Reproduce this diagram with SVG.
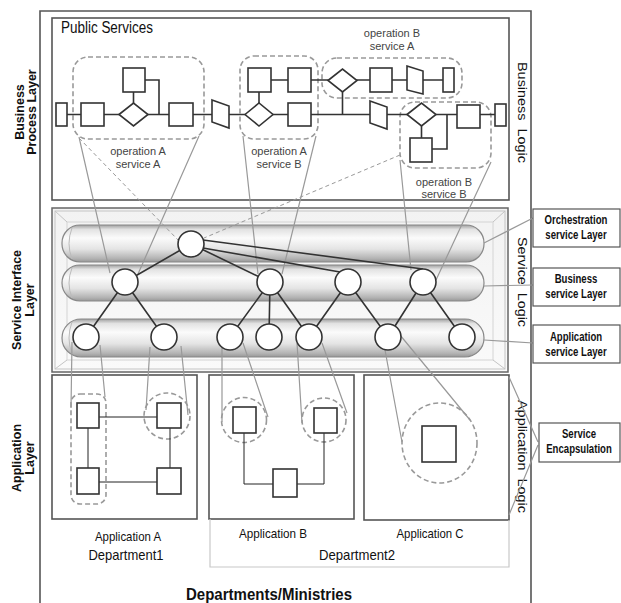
<svg xmlns="http://www.w3.org/2000/svg" width="621" height="603" viewBox="0 0 621 603">
<defs>
<linearGradient id="pill" x1="0" y1="0" x2="0" y2="1">
<stop offset="0" stop-color="#a0a0a0"/>
<stop offset="0.12" stop-color="#e2e2e2"/>
<stop offset="0.35" stop-color="#fbfbfb"/>
<stop offset="0.65" stop-color="#e4e4e4"/>
<stop offset="0.9" stop-color="#b4b4b4"/>
<stop offset="1" stop-color="#989898"/>
</linearGradient>
<linearGradient id="box" x1="0" y1="0" x2="0" y2="1">
<stop offset="0" stop-color="#f2f2f2"/>
<stop offset="1" stop-color="#fafafa"/>
</linearGradient>
</defs>
<style>
.frame{fill:none;stroke:#555;stroke-width:1.6}
.sq{fill:#fff;stroke:#333;stroke-width:1.6}
.ln{fill:none;stroke:#333;stroke-width:1.6}
.thin{fill:none;stroke:#222;stroke-width:1}
.dash{fill:none;stroke:#999;stroke-width:1.6;stroke-dasharray:5 3}
.gl{fill:none;stroke:#999;stroke-width:1.2}
.gd{fill:none;stroke:#999;stroke-width:1;stroke-dasharray:4 3}
.pill{fill:url(#pill);stroke:#888;stroke-width:1.2}
.c{fill:#fff;stroke:#333;stroke-width:1.6}
.t{font-family:"Liberation Sans Narrow","Liberation Sans",Arial,sans-serif;fill:#111}
.op{font-family:"Liberation Sans",Arial,sans-serif;font-size:11px;fill:#444;text-anchor:middle}
.b{font-family:"Liberation Sans Narrow","Liberation Sans",Arial,sans-serif;font-weight:bold;fill:#111}
.rl{font-family:"Liberation Sans",Arial,sans-serif;font-weight:bold;font-size:12px;fill:#111;text-anchor:middle}
.lbl{fill:#fff;stroke:#555;stroke-width:1.2}
</style>

<!-- outer frame -->
<path class="frame" d="M40,610 V11 H531 V610"/>

<!-- side labels -->
<g id="left-labels">
<text class="b" font-size="12.5" text-anchor="middle" transform="translate(23.5,112) rotate(-90)">Business</text>
<text class="b" font-size="12.5" text-anchor="middle" transform="translate(36,112) rotate(-90)">Process Layer</text>
<text class="b" font-size="12.5" text-anchor="middle" transform="translate(21,300) rotate(-90)">Service Interface</text>
<text class="b" font-size="12.5" text-anchor="middle" transform="translate(33.5,300) rotate(-90)">Layer</text>
<text class="b" font-size="12.5" text-anchor="middle" transform="translate(21,458) rotate(-90)">Application</text>
<text class="b" font-size="12.5" text-anchor="middle" transform="translate(33.5,458) rotate(-90)">Layer</text>
</g>
<g id="right-logic">
<text class="t" font-size="13" style="white-space:pre" textLength="101" lengthAdjust="spacingAndGlyphs" transform="translate(518,62) rotate(90)">Business  Logic</text>
<text class="t" font-size="13" style="white-space:pre" textLength="90" lengthAdjust="spacingAndGlyphs" transform="translate(518,237) rotate(90)">Service  Logic</text>
<text class="t" font-size="13" style="white-space:pre" textLength="113" lengthAdjust="spacingAndGlyphs" transform="translate(518,400) rotate(90)">Application  Logic</text>
</g>

<!-- Business process layer -->
<g id="business-process">
<rect class="frame" x="52" y="18" width="457" height="182"/>
<text class="t" x="61" y="33" font-size="16" textLength="92" lengthAdjust="spacingAndGlyphs">Public Services</text>
<rect class="dash" x="73" y="57" width="131" height="82" rx="15"/>
<rect class="dash" x="240" y="56" width="78" height="83" rx="14"/>
<rect class="dash" x="322" y="58" width="140" height="40" rx="15"/>
<rect class="dash" x="400" y="102" width="91" height="66" rx="15"/>
<path class="ln" d="M67,114.5 H495 M133.5,103 V92 M145,80 H159 V114.5 M259,103 V92 M271,80 H288 M311,80 H443 M342.5,92 V114.5 M421.5,126 V138 M432,149 H447 V114.5"/>
<rect class="sq" x="56" y="103" width="11" height="23"/>
<rect class="sq" x="81" y="103" width="23" height="23"/>
<polygon class="sq" points="119,114.5 133.5,103 148,114.5 133.5,126"/>
<rect class="sq" x="123" y="68" width="22" height="24"/>
<rect class="sq" x="169" y="103" width="24" height="23"/>
<polygon class="sq" points="212,100 229,106 229,128 212,122"/>
<polygon class="sq" points="245,114.5 259,103 273,114.5 259,126"/>
<rect class="sq" x="248" y="68" width="23" height="24"/>
<rect class="sq" x="288" y="68" width="23" height="24"/>
<rect class="sq" x="288" y="103" width="23" height="23"/>
<polygon class="sq" points="328,80.5 342.5,69 357,80.5 342.5,92"/>
<rect class="sq" x="370" y="68" width="22" height="24"/>
<polygon class="sq" points="407,66 423,71 423,94 407,90"/>
<rect class="sq" x="443" y="68" width="11" height="24"/>
<polygon class="sq" points="370,101 387,107 387,129 370,123"/>
<polygon class="sq" points="407,114.5 421.5,103 436,114.5 421.5,126"/>
<rect class="sq" x="410" y="138" width="22" height="24"/>
<rect class="sq" x="457" y="105" width="23" height="23"/>
<rect class="sq" x="495" y="104" width="11" height="22"/>
<text class="op" x="138" y="155">operation A</text>
<text class="op" x="138" y="167.5">service A</text>
<text class="op" x="279" y="155">operation A</text>
<text class="op" x="279" y="167.5">service B</text>
<text class="op" x="392" y="37">operation B</text>
<text class="op" x="392" y="49.5">service A</text>
<text class="op" x="444" y="186">operation B</text>
<text class="op" x="444" y="198">service B</text>
</g>

<!-- Service interface layer -->
<g id="service-layer">
<rect x="52" y="208" width="456" height="164" fill="url(#box)" stroke="#666" stroke-width="1.5"/>
<rect x="55" y="211" width="450" height="158" fill="none" stroke="#c4c4c4" stroke-width="1"/>
<rect x="67" y="222" width="426" height="138" fill="none" stroke="#d4d4d4" stroke-width="1"/>
<path d="M55,211 L67,222 M505,211 L493,222 M55,369 L67,360 M505,369 L493,360" stroke="#c4c4c4" stroke-width="1" fill="none"/>
<rect class="pill" x="62" y="225" width="422" height="37" rx="18"/>
<rect class="pill" x="62" y="265" width="422" height="36" rx="18"/>
<rect class="pill" x="62" y="319" width="422" height="38" rx="19"/>
<path d="M72,228 Q66,243.5 72,259 M72,268 Q66,283 72,298 M72,322 Q66,338 72,354" stroke="#bbb" fill="none" stroke-width="1"/>
</g>

<!-- Application layer -->
<g id="app-a">
<rect class="frame" x="52" y="375" width="145" height="144"/>
<rect class="dash" x="71" y="394" width="35" height="110" rx="9"/>
<circle class="dash" cx="167" cy="416" r="23"/>
<path class="thin" d="M99,417 H157 M88,428 V468 M99,482 H157 M170,428 V468"/>
<rect class="sq" x="77" y="403" width="22" height="25"/>
<rect class="sq" x="157" y="403" width="24" height="25"/>
<rect class="sq" x="77" y="468" width="22" height="26"/>
<rect class="sq" x="157" y="468" width="24" height="26"/>
<text class="t" x="128" y="541" font-size="13" text-anchor="middle" textLength="66" lengthAdjust="spacingAndGlyphs">Application A</text>
<text class="t" x="126" y="560" font-size="15" text-anchor="middle" textLength="75" lengthAdjust="spacingAndGlyphs">Department1</text>
</g>
<g id="app-b">
<rect class="frame" x="209" y="375" width="145" height="144"/>
<circle class="dash" cx="244" cy="420" r="22.5"/>
<circle class="dash" cx="324" cy="420" r="22"/>
<path class="thin" d="M244,433 V484 H273 M297,484 H324 V433"/>
<rect class="sq" x="233" y="407" width="23" height="26"/>
<rect class="sq" x="314" y="408" width="23" height="25"/>
<rect class="sq" x="273" y="469" width="24" height="28"/>
<text class="t" x="273" y="538" font-size="13" text-anchor="middle" textLength="68" lengthAdjust="spacingAndGlyphs">Application B</text>
</g>
<g id="app-c">
<rect class="frame" x="364" y="375" width="145" height="145"/>
<ellipse class="dash" cx="439.5" cy="443" rx="37.5" ry="40"/>
<rect class="sq" x="422" y="426" width="34" height="36"/>
<text class="t" x="430" y="538" font-size="13" text-anchor="middle" textLength="67" lengthAdjust="spacingAndGlyphs">Application C</text>
</g>
<g id="department2">
<path d="M210,519 V567 H509 V520" fill="none" stroke="#c8c8c8" stroke-width="1.2"/>
<text class="t" x="357" y="560" font-size="15" text-anchor="middle" textLength="76" lengthAdjust="spacingAndGlyphs">Department2</text>
</g>
<text class="b" x="269" y="600" font-size="17" text-anchor="middle" textLength="166" lengthAdjust="spacingAndGlyphs">Departments/Ministries</text>

<!-- connectors -->
<g id="connectors">
<path class="gl" d="M79,137 L110,273 M199,136 L138,274 M243,136 L258,274 M316,136 L282,274 M400,160 L411,270 M491,162 L436,280"/>
<path class="gd" d="M79,138 L180,242 M400,155 L204,238"/>
<path class="ln" d="M191,244 L125,282 M191,244 L270,282 M203,240 L423,269 M203,248 L340,272 M125,282 L86,337 M125,282 L164,337 M270,282 L230,337 M270,282 L269,337 M270,282 L309,337 M348,282 L309,337 M348,282 L388,337 M423,282 L388,337 M423,282 L462,337"/>
<path class="gl" d="M72,342 L71,408 M100,345 L105,397 M150,347 L146,410 M181,346 L188,415 M222,347 L222,422 M243,343 L268,417 M297,343 L302,423 M322,343 L347,413 M385,350 L402,442 M400,335 L470,420"/>
<path class="gl" d="M484,243 L533,218 M484,286 L533,285 M484,340 L533,343 M509,377 L538,442 M509,515 L538,445"/>
</g>
<g id="circles">
<circle class="c" cx="191" cy="244" r="13"/>
<circle class="c" cx="125" cy="282" r="13"/>
<circle class="c" cx="270" cy="282" r="13"/>
<circle class="c" cx="348" cy="282" r="13"/>
<circle class="c" cx="423" cy="282" r="13"/>
<circle class="c" cx="86" cy="337" r="13"/>
<circle class="c" cx="164" cy="337" r="13"/>
<circle class="c" cx="230" cy="337" r="13"/>
<circle class="c" cx="269" cy="337" r="13"/>
<circle class="c" cx="309" cy="337" r="13"/>
<circle class="c" cx="388" cy="337" r="13"/>
<circle class="c" cx="462" cy="337" r="13"/>
</g>

<!-- right labels -->
<g id="lbl-orch">
<rect class="lbl" x="533" y="209" width="87" height="38"/>
<text class="rl" transform="translate(576,224) scale(0.8,1)">Orchestration</text>
<text class="rl" transform="translate(576,239) scale(0.8,1)">service Layer</text>
</g>
<g id="lbl-bus">
<rect class="lbl" x="533" y="268" width="87" height="38"/>
<text class="rl" transform="translate(576,283) scale(0.8,1)">Business</text>
<text class="rl" transform="translate(576,298) scale(0.8,1)">service Layer</text>
</g>
<g id="lbl-app">
<rect class="lbl" x="533" y="325" width="87" height="38"/>
<text class="rl" transform="translate(576,341) scale(0.8,1)">Application</text>
<text class="rl" transform="translate(576,356) scale(0.8,1)">service Layer</text>
</g>
<g id="lbl-enc">
<rect class="lbl" x="539" y="423" width="81" height="39"/>
<text class="rl" transform="translate(579,438) scale(0.8,1)">Service</text>
<text class="rl" transform="translate(579,453) scale(0.8,1)">Encapsulation</text>
</g>
</svg>
